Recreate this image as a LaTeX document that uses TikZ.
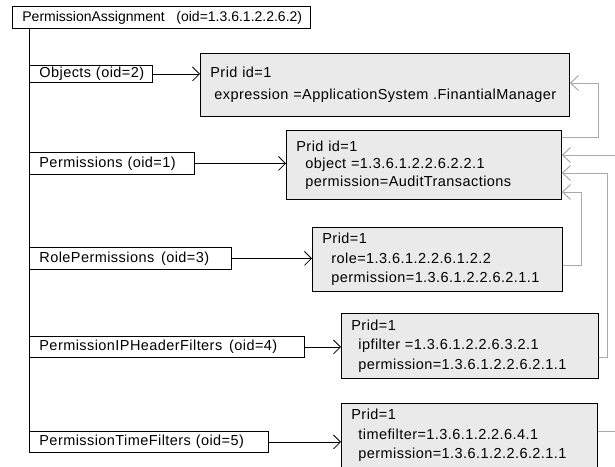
\documentclass[tikz,border=0pt]{standalone}
\usepackage{fontspec}
\setmainfont{Liberation Sans}[LetterSpace=3]
\newfontfamily\plainsans{Liberation Sans}
\usetikzlibrary{arrows.meta}

\definecolor{boxfill}{RGB}{234,234,234}
\definecolor{linkgray}{RGB}{170,170,170}

\tikzset{
  tablebox/.style={draw=black, line width=0.8pt, fill=white, anchor=north west,
    inner xsep=10pt, inner ysep=0pt, align=left,
    font=\fontsize{14.5}{16}\selectfont},
  rowbox/.style={draw=black, line width=0.8pt, fill=boxfill, anchor=north west,
    inner xsep=10pt, inner ysep=0pt, align=left,
    font=\fontsize{14.5}{19.5}\selectfont},
  refarrow/.style={draw=black, line width=0.8pt,
    -{Straight Barb[length=7pt,width=14pt,line width=0.8pt]}},
  backlink/.style={draw=linkgray, line width=1pt,
    -{Straight Barb[length=8pt,width=15pt,line width=1pt]}},
}

\newcommand{\ind}[1]{\hspace*{#1pt}}

\begin{document}
\begin{tikzpicture}[x=1pt,y=-1pt]
  \useasboundingbox (0,0) rectangle (615,466);

  % table of the MIB subtree
  \node[tablebox, minimum height=22, text width=278,
        font=\plainsans\fontsize{14}{16}\selectfont] (pa) at (12,6)
    {\mbox{PermissionAssignment\hspace{7pt} (oid=1.3.6.1.2.2.6.2)}};

  \node[tablebox, minimum height=17, text width=103] (objs) at (29,65)
    {\mbox{Objects (oid=2)}};
  \node[tablebox, minimum height=22, text width=145] (perms) at (29,152)
    {\mbox{Permissions (oid=1)}};
  \node[tablebox, minimum height=22, text width=182] (roles) at (29,247)
    {\mbox{RolePermissions\hspace{2pt} (oid=3)}};
  \node[tablebox, minimum height=21, text width=255] (ipf) at (29,336)
    {\mbox{PermissionIPHeaderFilters\hspace{2pt} (oid=4)}};
  \node[tablebox, minimum height=21, text width=219] (tf) at (29,431)
    {\mbox{PermissionTimeFilters (oid=5)}};

  % trunk joining the tables
  \draw[line width=0.8pt] (pa.south -| objs.west) -- (tf.south west);

  % example rows
  \node[rowbox, minimum height=63, text width=349,
        font=\fontsize{14.5}{22}\selectfont] (b1) at (200,53)
    {Prid id=1\\\ind{4}expression =ApplicationSystem .FinantialManager};
  \node[rowbox, minimum height=69, text width=255,
        font=\fontsize{14.5}{17.5}\selectfont] (b2) at (286,130)
    {Prid id=1\\\ind{9}object =1.3.6.1.2.2.6.2.2.1\\\ind{9}permission=AuditTransactions};
  \node[rowbox, minimum height=64, text width=230] (b3) at (312,227)
    {Prid=1\\\ind{9}role=1.3.6.1.2.2.6.1.2.2\\\ind{9}permission=1.3.6.1.2.2.6.2.1.1};
  \node[rowbox, minimum height=65, text width=237] (b4) at (341,313)
    {Prid=1\\\ind{7}ipfilter =1.3.6.1.2.2.6.3.2.1\\\ind{7}permission=1.3.6.1.2.2.6.2.1.1};
  \node[rowbox, minimum height=64, text width=236] (b5) at (341,403)
    {Prid=1\\\ind{7}timefilter=1.3.6.1.2.2.6.4.1\\\ind{7}permission=1.3.6.1.2.2.6.2.1.1};

  % table to row
  \draw[refarrow] (objs.east) -- (objs.east -| b1.west);
  \draw[refarrow] (perms.east) -- (perms.east -| b2.west);
  \draw[refarrow] (roles.east) -- (roles.east -| b3.west);
  \draw[refarrow] (ipf.east) -- (ipf.east -| b4.west);
  \draw[refarrow] (tf.east) -- (tf.east -| b5.west);

  % references between rows
  \coordinate (p1) at (598,137);
  \coordinate (p2) at (625,431);
  \coordinate (p3) at (607,357);
  \coordinate (p4) at (581,265);
  \draw[backlink] (b2.east |- p1) -- (p1) -- (p1 |- 0,83) -- (b1.east |- 0,83);
  \draw[backlink] (b5.east |- p2) -- (p2) -- (p2 |- 0,155) -- (b2.east |- 0,155);
  \draw[backlink] (b4.east |- p3) -- (p3) -- (p3 |- 0,173) -- (b2.east |- 0,173);
  \draw[backlink] (b3.east |- p4) -- (p4) -- (p4 |- 0,192) -- (b2.east |- 0,192);
\end{tikzpicture}
\end{document}
